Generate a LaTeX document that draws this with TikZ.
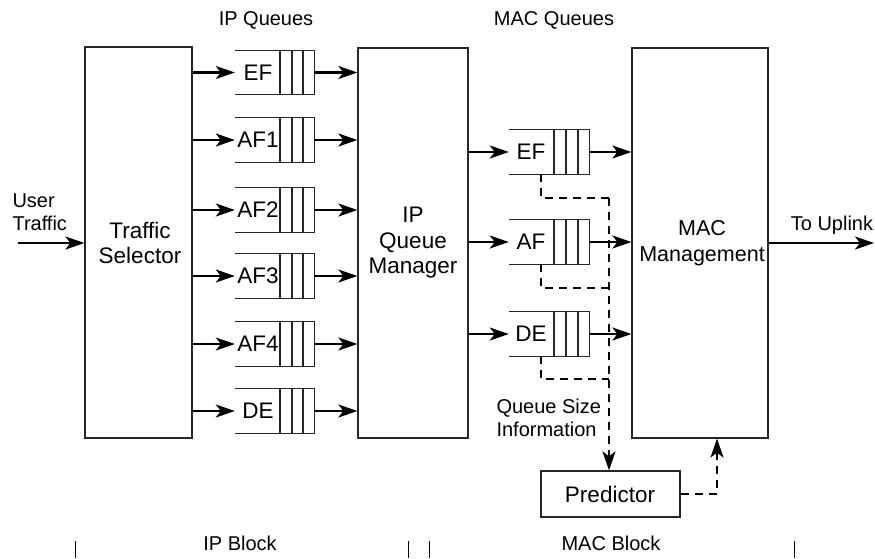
\documentclass[tikz,border=0pt]{standalone}
\usepackage{fontspec}
\setmainfont{Liberation Sans}
\usetikzlibrary{arrows.meta,calc}
\begin{document}
\begin{tikzpicture}[x=1pt,y=-1pt,
  box/.style={draw=black!85,line width=1.2pt,inner sep=0pt},
  qnode/.style={inner sep=0pt,minimum height=44pt},
  qline/.style={draw=black!85,line width=1.2pt},
  arr/.style={line width=2.4pt,-{Stealth[length=19pt,width=13pt,inset=5pt]}},
  darr/.style={line width=2.4pt,dash pattern=on 8pt off 6pt,-{Stealth[length=19pt,width=13pt,inset=5pt]}},
  dln/.style={line width=2.4pt,dash pattern=on 8pt off 6pt},
  big/.style={font=\fontsize{22.5}{25.5}\selectfont,align=center},
  mid/.style={font=\fontsize{20}{23}\selectfont,align=center},
  small/.style={font=\fontsize{20}{23}\selectfont,align=left},
  tick/.style={line width=1pt}]
\useasboundingbox (0,0) rectangle (875,558);
% main boxes
\node[box,minimum width=107pt,minimum height=391pt] (ts) at (138.5,242.5) {};
\node[big] (tstxt) at (140,243) {Traffic\\Selector};
\node[box,minimum width=110pt,minimum height=390pt] (qm) at (413,243) {};
\node[big] (qmtxt) at (413,243) {IP\\Queue\\Manager};
\node[box,minimum width=136pt,minimum height=390pt] (mm) at (700,243) {};
\node[big,font=\fontsize{21.5}{25.5}\selectfont] (mmtxt) at (702,243) {MAC\\Management};
\node[box,minimum width=139pt,minimum height=46pt] (pred) at (610.5,494) {};
\node[big] (predtxt) at (610,494) {Predictor};
% top labels
\node[small] (iplab) at (266,20) {IP Queues};
\node[small] (maclab) at (554,20) {MAC Queues};
% user traffic
\node[mid,align=left,anchor=west] (ut) at (9,212) {User\\Traffic};
\coordinate (utin) at (18,243);
\draw[arr] (utin) -- (ts.west |- utin);
% to uplink
\node[mid] (tu) at (832,225) {To Uplink};
\coordinate (tuout) at (874,243);
\draw[arr] (mm.east |- tuout) -- (tuout);
% IP queues
\foreach \n/\y/\t in {1/72.5/EF,2/140/AF1,3/210/AF2,4/276/AF3,5/344/AF4,6/411/DE}{
  \node[qnode,minimum width=79pt] (ip\n) at (274.5,\y) {};
  \draw[qline] (ip\n.north west) -- (ip\n.north east) -- (ip\n.south east) -- (ip\n.south west);
  \foreach \c in {280,292,303}{\draw[qline] (\c,\y-22) -- (\c,\y+22);}
  \node[big] (ipt\n) at (258,\y) {\t};
  \draw[arr] (ts.east |- ip\n.west) -- (ip\n.west);
  \draw[arr] (ip\n.east) -- (qm.west |- ip\n.east);
}
% MAC queues
\foreach \n/\y/\t in {1/152/EF,2/242/AF,3/334/DE}{
  \node[qnode,minimum width=80pt] (mq\n) at (549,\y) {};
  \draw[qline] (mq\n.north west) -- (mq\n.north east) -- (mq\n.south east) -- (mq\n.south west);
  \foreach \c in {554,566,578}{\draw[qline] (\c,\y-22) -- (\c,\y+22);}
  \node[big] (mqt\n) at (531,\y) {\t};
  \draw[arr] (qm.east |- mq\n.west) -- (mq\n.west);
  \draw[arr] (mq\n.east) -- (mm.west |- mq\n.east);
}
% dashed info lines
\coordinate (d1) at (541,198);
\coordinate (d2) at (541,288);
\coordinate (d3) at (541,379);
\coordinate (dv) at (609,198);
\draw[dln] (d1 |- mq1.south) -- (d1) -- (dv);
\draw[dln] (d2 |- mq2.south) -- (d2) -- (609,288);
\draw[dln] (d3 |- mq3.south) -- (d3) -- (609,379);
\draw[darr] (dv) -- (dv |- pred.north);
\node[small,anchor=west] (qsi) at (493,418) {Queue Size\\Information};
\coordinate (pc) at (717,494);
\draw[darr] (pred.east) -- (pc) -- (pc |- mm.south);
% bottom
\node[mid] (ipb) at (240,543) {IP Block};
\node[mid] (macb) at (611,543) {MAC Block};
\foreach \x in {75,408,429,794}{\draw[tick] (\x,541) -- (\x,558);}
\end{tikzpicture}
\end{document}
